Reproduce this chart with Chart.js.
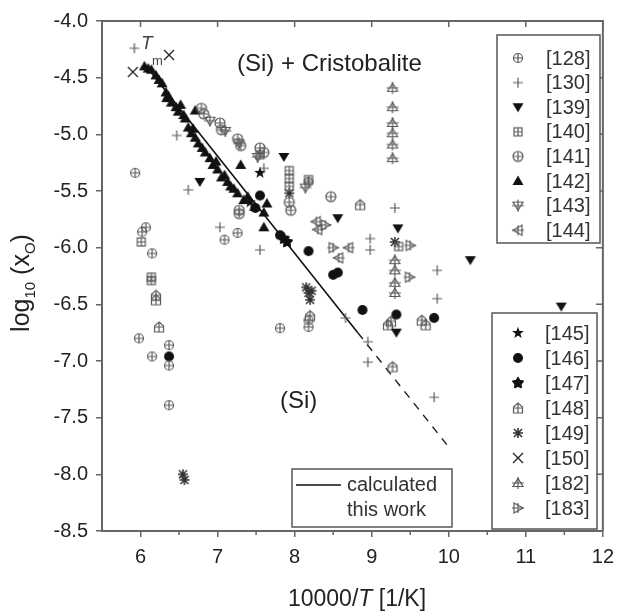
<!DOCTYPE html>
<html>
<head>
<meta charset="utf-8">
<script src="https://cdn.jsdelivr.net/npm/chart.js@4.4.1/dist/chart.umd.min.js"></script>
<style>
  html, body { margin: 0; background: #fff; }
  canvas { display: block; }
</style>
</head>
<body>
<canvas id="chart" width="622" height="614"></canvas>
<script>
// axis ticks
const xTicks = [6, 7, 8, 9, 10, 11, 12];
const yTicks = [-8.5, -8.0, -7.5, -7.0, -6.5, -6.0, -5.5, -5.0, -4.5, -4.0];

// literature data, [10000/T, log10(xO)]
const ref128 = [[5.93,-5.34],[6.07,-5.82],[6.02,-5.86],[6.15,-6.05],[5.98,-6.80],[6.15,-6.96],[6.37,-6.86],[6.37,-7.04],[6.37,-7.39],[7.26,-5.87],[7.09,-5.93],[7.81,-6.71],[8.18,-5.42],[8.18,-6.64],[8.18,-6.70]];
const ref130 = [[5.92,-4.24],[6.47,-5.01],[6.62,-5.49],[7.03,-5.82],[7.55,-6.02],[7.60,-5.30],[8.98,-5.92],[8.98,-6.02],[9.85,-6.20],[9.85,-6.45],[8.66,-6.62],[8.95,-6.83],[8.95,-7.01],[9.81,-7.32],[9.30,-5.65]];
const ref139 = [[6.77,-5.42],[7.86,-5.20],[8.56,-5.74],[9.34,-5.83],[10.28,-6.11],[11.46,-6.52],[9.32,-6.75]];
const ref140 = [[6.01,-5.95],[6.14,-6.26],[6.14,-6.29],[7.93,-5.32],[7.93,-5.39],[7.93,-5.46],[8.18,-5.40],[9.35,-5.99],[7.55,-5.18]];
const ref141 = [[6.79,-4.77],[6.82,-4.82],[7.03,-4.90],[7.05,-4.96],[7.26,-5.04],[7.30,-5.10],[7.55,-5.12],[7.60,-5.16],[7.28,-5.67],[7.28,-5.70],[7.93,-5.60],[7.95,-5.67],[8.47,-5.55]];
const ref142 = [[6.05,-4.40],[6.10,-4.42],[6.14,-4.43],[6.20,-4.48],[6.24,-4.52],[6.28,-4.55],[6.33,-4.63],[6.34,-4.68],[6.36,-4.66],[6.40,-4.72],[6.46,-4.76],[6.49,-4.80],[6.52,-4.74],[6.56,-4.83],[6.58,-4.86],[6.62,-4.94],[6.66,-4.99],[6.68,-4.95],[6.71,-5.03],[6.71,-4.79],[6.75,-5.08],[6.80,-5.12],[6.84,-5.16],[6.90,-5.21],[6.94,-5.27],[6.98,-5.24],[7.00,-5.31],[7.05,-5.38],[7.09,-5.36],[7.13,-5.42],[7.17,-5.46],[7.21,-5.48],[7.26,-5.52],[7.30,-5.27],[7.34,-5.58],[7.39,-5.55],[7.48,-5.64],[7.60,-5.69],[7.64,-5.61],[7.60,-5.82]];
const ref143 = [[7.52,-5.20],[7.28,-5.08],[8.14,-5.47],[6.90,-4.88],[7.10,-4.97]];
const ref144 = [[8.28,-5.77],[8.30,-5.84],[8.70,-6.00],[8.57,-6.09]];
const ref145 = [[7.55,-5.34],[7.42,-5.60]];
const ref146 = [[7.55,-5.54],[7.49,-5.65],[7.81,-5.89],[8.18,-6.03],[8.50,-6.24],[8.56,-6.22],[8.88,-6.55],[9.32,-6.59],[9.81,-6.62],[6.37,-6.96]];
const ref147 = [[7.90,-5.95],[7.86,-5.92]];
const ref148 = [[9.65,-6.64],[9.70,-6.68],[9.21,-6.68],[9.25,-6.65],[9.27,-7.05],[6.20,-6.42],[6.20,-6.46],[6.24,-6.70],[8.20,-6.60],[8.85,-5.62]];
const ref149 = [[8.15,-6.35],[8.18,-6.40],[8.20,-6.46],[8.22,-6.38],[6.55,-8.00],[6.57,-8.05],[9.30,-5.95],[7.93,-5.52]];
const ref150 = [[6.37,-4.30],[5.90,-4.45]];
const ref182 = [[9.27,-4.59],[9.27,-4.76],[9.27,-4.90],[9.27,-4.99],[9.27,-5.09],[9.27,-5.21],[9.30,-6.11],[9.30,-6.20],[9.30,-6.31],[9.30,-6.40]];
const ref183 = [[9.50,-5.98],[9.49,-6.26],[8.50,-6.00],[8.40,-5.80]];

// calculated line (this work), solid part and extrapolated part
const calcSolid = [[6.05,-4.38],[8.82,-6.75]];
const calcDashed = [[8.82,-6.75],[10.0,-7.76]];

const FONT = '"Liberation Sans", Arial, sans-serif';

// little canvases used as point symbols
function marker(kind) {
  const s = 14;
  const c = document.createElement('canvas');
  c.width = s; c.height = s;
  const g = c.getContext('2d');
  g.translate(s / 2, s / 2);
  g.lineWidth = 1.2;
  g.strokeStyle = '#5a5a5a';
  g.fillStyle = '#111';
  const poly = pts => {
    g.beginPath();
    pts.forEach((p, i) => i ? g.lineTo(p[0], p[1]) : g.moveTo(p[0], p[1]));
    g.closePath();
  };
  const cross = (rx, ry) => {
    g.beginPath();
    g.moveTo(-rx, 0); g.lineTo(rx, 0);
    g.moveTo(0, -ry); g.lineTo(0, ry);
    g.stroke();
  };
  const star = (ro, ri) => {
    const pts = [];
    for (let i = 0; i < 10; i++) {
      const a = -Math.PI / 2 + i * Math.PI / 5;
      const r = i % 2 ? ri : ro;
      pts.push([r * Math.cos(a), r * Math.sin(a)]);
    }
    poly(pts);
  };
  switch (kind) {
    case 'circPlus':
      g.beginPath(); g.arc(0, 0, 4.5, 0, 2 * Math.PI); g.stroke(); cross(4.5, 4.5); break;
    case 'plus':
      cross(5, 5); break;
    case 'triDown':
      poly([[-5.5, -4], [5.5, -4], [0, 5]]); g.fill(); break;
    case 'rectPlus':
      g.strokeRect(-4, -4, 8, 8); cross(4, 4); break;
    case 'circPlus2':
      g.beginPath(); g.arc(0, 0, 5, 0, 2 * Math.PI); g.stroke(); cross(5, 5); break;
    case 'triUp':
      poly([[-5.5, 4], [5.5, 4], [0, -5.5]]); g.fill(); break;
    case 'triDownPlus':
      poly([[-5, -3.5], [5, -3.5], [0, 4.5]]); g.stroke(); cross(6, 6); break;
    case 'triLeftPlus':
      poly([[-5, 0], [4, -5], [4, 5]]); g.stroke(); cross(6, 5); break;
    case 'star':
      star(6.2, 2.5); g.fill(); break;
    case 'circle':
      g.beginPath(); g.arc(0, 0, 5, 0, 2 * Math.PI); g.fill(); break;
    case 'star2':
      star(5.5, 3); g.fill(); g.lineJoin = 'round'; g.lineWidth = 1.5; g.strokeStyle = '#111'; g.stroke(); break;
    case 'house':
      poly([[-4.5, 5], [4.5, 5], [4.5, -1], [0, -5], [-4.5, -1]]); g.stroke(); cross(4.5, 5); break;
    case 'aster':
      g.strokeStyle = '#333'; g.lineWidth = 1.6;
      g.beginPath();
      g.moveTo(-5, 0); g.lineTo(5, 0); g.moveTo(0, -5); g.lineTo(0, 5);
      g.moveTo(-4, -4); g.lineTo(4, 4); g.moveTo(-4, 4); g.lineTo(4, -4);
      g.stroke(); break;
    case 'x':
      g.strokeStyle = '#222'; g.lineWidth = 1.3;
      g.beginPath(); g.moveTo(-5, -5); g.lineTo(5, 5); g.moveTo(-5, 5); g.lineTo(5, -5); g.stroke(); break;
    case 'triUpPlus':
      poly([[-5, 3.5], [5, 3.5], [0, -4.5]]); g.stroke(); cross(6, 6); break;
    case 'triRightPlus':
      poly([[5, 0], [-4, -5], [-4, 5]]); g.stroke(); cross(6, 5); break;
  }
  return c;
}

const series = [
  ['[128]', ref128, 'circPlus'],
  ['[130]', ref130, 'plus'],
  ['[139]', ref139, 'triDown'],
  ['[140]', ref140, 'rectPlus'],
  ['[141]', ref141, 'circPlus2'],
  ['[142]', ref142, 'triUp'],
  ['[143]', ref143, 'triDownPlus'],
  ['[144]', ref144, 'triLeftPlus'],
  ['[145]', ref145, 'star'],
  ['[146]', ref146, 'circle'],
  ['[147]', ref147, 'star2'],
  ['[148]', ref148, 'house'],
  ['[149]', ref149, 'aster'],
  ['[150]', ref150, 'x'],
  ['[182]', ref182, 'triUpPlus'],
  ['[183]', ref183, 'triRightPlus']
];

const toXY = arr => arr.map(p => ({x: p[0], y: p[1]}));

const datasets = series.map(s => ({
  label: s[0],
  data: toXY(s[1]),
  pointStyle: marker(s[2]),
  pointRadius: 6,
  showLine: false
}));
datasets.push({
  label: 'calc', data: toXY(calcSolid), showLine: true, pointRadius: 0,
  borderColor: '#111', borderWidth: 1.6
});
datasets.push({
  label: 'calc-ext', data: toXY(calcDashed), showLine: true, pointRadius: 0,
  borderColor: '#222', borderWidth: 1.5, borderDash: [8, 7]
});

const decorations = {
  id: 'decorations',
  afterDatasetsDraw(chart) {
    const ctx = chart.ctx;
    const a = chart.chartArea;
    const xs = chart.scales.x, ys = chart.scales.y;
    ctx.save();

    // top / right frame with inward ticks
    ctx.strokeStyle = '#666';
    ctx.lineWidth = 2;
    ctx.beginPath();
    ctx.moveTo(a.left, a.top); ctx.lineTo(a.right, a.top); ctx.lineTo(a.right, a.bottom);
    ctx.stroke();
    ctx.lineWidth = 1.5;
    ctx.beginPath();
    xTicks.forEach(v => {
      const px = xs.getPixelForValue(v);
      ctx.moveTo(px, a.top); ctx.lineTo(px, a.top + 6);
    });
    yTicks.forEach(v => {
      const py = ys.getPixelForValue(v);
      ctx.moveTo(a.right, py); ctx.lineTo(a.right - 7, py);
    });
    // minor ticks, outward on bottom and left
    for (let v = 6.5; v < 12; v += 1) {
      const px = xs.getPixelForValue(v);
      ctx.moveTo(px, a.bottom); ctx.lineTo(px, a.bottom + 4);
    }
    for (let v = -8.25; v > -4; v += 0.5) {
      const py = ys.getPixelForValue(v);
      ctx.moveTo(a.left, py); ctx.lineTo(a.left - 4, py);
    }
    ctx.stroke();

    // legend boxes
    const box = (x0, y0, x1, y1) => {
      ctx.fillStyle = '#fff';
      ctx.fillRect(x0, y0, x1 - x0, y1 - y0);
      ctx.strokeStyle = '#555';
      ctx.lineWidth = 1.5;
      ctx.strokeRect(x0, y0, x1 - x0, y1 - y0);
    };
    ctx.font = '20px ' + FONT;
    ctx.textBaseline = 'middle';
    ctx.textAlign = 'left';

    box(497, 35, 600, 243);
    for (let i = 0; i < 8; i++) {
      const y = 58 + i * 24.6;
      const img = chart.data.datasets[i].pointStyle;
      ctx.drawImage(img, 518 - img.width / 2, y - img.height / 2);
      ctx.fillStyle = '#333';
      ctx.fillText(chart.data.datasets[i].label, 546, y + 1);
    }
    box(492, 313, 597, 529);
    for (let i = 8; i < 16; i++) {
      const y = 333 + (i - 8) * 25;
      const img = chart.data.datasets[i].pointStyle;
      ctx.drawImage(img, 518 - img.width / 2, y - img.height / 2);
      ctx.fillStyle = '#333';
      ctx.fillText(chart.data.datasets[i].label, 545, y + 1);
    }

    // legend for the calculated line
    box(292, 469, 452, 527);
    ctx.strokeStyle = '#111';
    ctx.lineWidth = 1.6;
    ctx.beginPath(); ctx.moveTo(296, 485); ctx.lineTo(341, 485); ctx.stroke();
    ctx.fillStyle = '#333';
    ctx.font = '20px ' + FONT;
    ctx.fillText('calculated', 347, 485);
    ctx.fillText('this work', 347, 510);

    // phase field labels
    ctx.fillStyle = '#222';
    ctx.font = '24px ' + FONT;
    ctx.fillText('(Si) + Cristobalite', 237, 64);
    ctx.fillText('(Si)', 280, 401);

    // melting point mark
    ctx.fillStyle = '#444';
    ctx.font = 'italic 19px ' + FONT;
    ctx.fillText('T', 141, 44);
    ctx.font = '13px ' + FONT;
    ctx.fillText('m', 152, 61);

    // axis titles
    ctx.fillStyle = '#222';
    ctx.textBaseline = 'alphabetic';
    const parts = [['10000/', '23px ' + FONT], ['T', 'italic 23px ' + FONT], [' [1/K]', '23px ' + FONT]];
    let w = 0;
    parts.forEach(p => { ctx.font = p[1]; w += ctx.measureText(p[0]).width; });
    let x = 357 - w / 2;
    parts.forEach(p => { ctx.font = p[1]; ctx.fillText(p[0], x, 606); x += ctx.measureText(p[0]).width; });

    const yparts = [['log', '25px ' + FONT, 0], ['10', '15px ' + FONT, 6], [' (', '25px ' + FONT, 0],
                    ['x', '25px ' + FONT, 0], ['O', '15px ' + FONT, 6], [')', '25px ' + FONT, 0]];
    ctx.translate(29, 283);
    ctx.rotate(-Math.PI / 2);
    w = 0;
    yparts.forEach(p => { ctx.font = p[1]; w += ctx.measureText(p[0]).width; });
    x = -w / 2;
    yparts.forEach(p => { ctx.font = p[1]; ctx.fillText(p[0], x, p[2]); x += ctx.measureText(p[0]).width; });

    ctx.restore();
  }
};

new Chart(document.getElementById('chart'), {
  type: 'scatter',
  data: { datasets: datasets },
  plugins: [decorations],
  options: {
    responsive: false,
    animation: false,
    devicePixelRatio: 1,
    layout: { padding: { top: 21, right: 10, left: 0, bottom: 0 } },
    plugins: { legend: { display: false }, tooltip: { enabled: false } },
    scales: {
      x: {
        type: 'linear', min: 5.5, max: 12,
        afterBuildTicks: s => { s.ticks = xTicks.map(v => ({value: v})); },
        afterFit: s => { s.height = 83; },
        ticks: { font: { family: FONT, size: 20 }, color: '#222', padding: 8 },
        grid: { drawOnChartArea: false, tickLength: 6, color: '#666', lineWidth: 1.5 },
        border: { color: '#666', width: 2 }
      },
      y: {
        type: 'linear', min: -8.5, max: -4.0,
        afterBuildTicks: s => { s.ticks = yTicks.map(v => ({value: v})); },
        afterFit: s => { s.width = 102; },
        ticks: { font: { family: FONT, size: 20 }, color: '#222', padding: 8,
                 callback: v => v.toFixed(1) },
        grid: { drawOnChartArea: false, tickLength: 6, color: '#666', lineWidth: 1.5 },
        border: { color: '#666', width: 2 }
      }
    }
  }
});
</script>
</body>
</html>
